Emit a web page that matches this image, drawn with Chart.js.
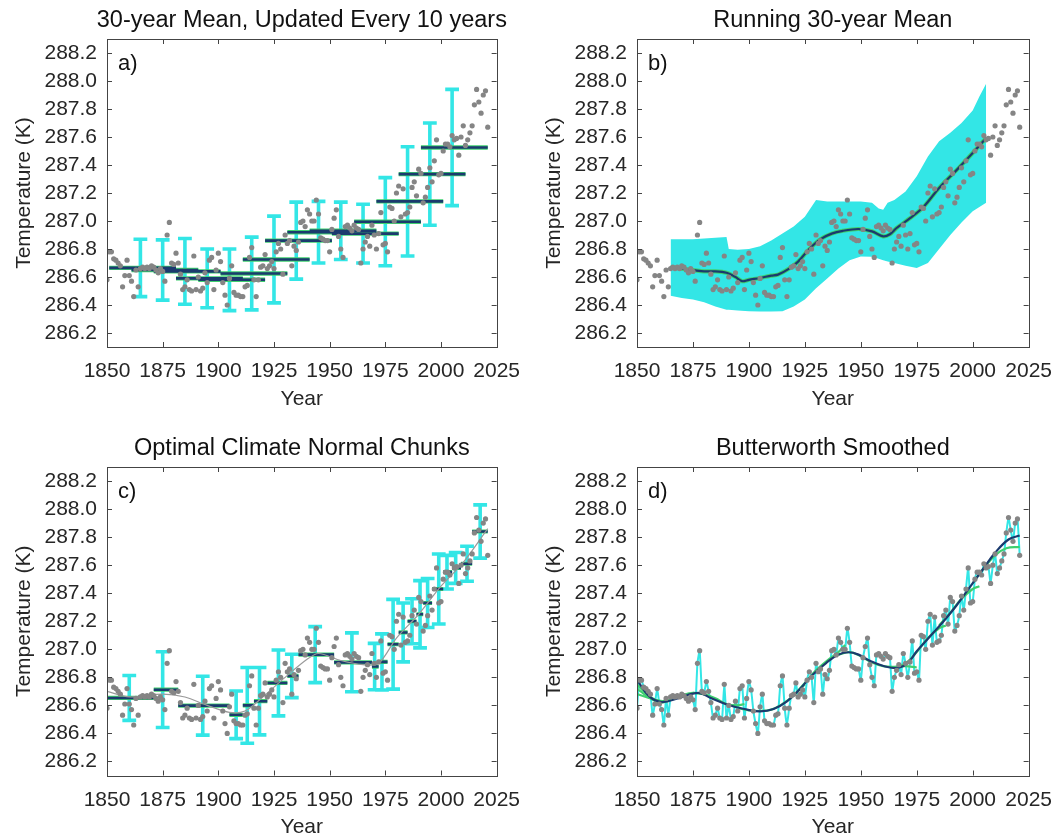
<!DOCTYPE html>
<html>
<head>
<meta charset="utf-8">
<script src="https://cdn.jsdelivr.net/npm/chart.js@4.4.1/dist/chart.umd.min.js"></script>
<style>
  html, body { margin: 0; padding: 0; background: #fff; }
  #wrap { position: relative; width: 1064px; height: 840px; }
  #wrap canvas { position: absolute; }
</style>
</head>
<body>
<div id="wrap">
  <canvas id="pa" width="532" height="420" style="left:0;top:0"></canvas>
  <canvas id="pb" width="532" height="420" style="left:532px;top:0"></canvas>
  <canvas id="pc" width="532" height="420" style="left:0;top:420px"></canvas>
  <canvas id="pd" width="532" height="420" style="left:532px;top:420px"></canvas>
</div>
<script>
// ---------- annual global mean temperature (K), 1850-2021 ----------
const years = Array.from({ length: 172 }, (_, i) => 1850 + i);
const temps = [
  286.58, 286.78, 286.78, 286.73, 286.72, 286.70, 286.68, 286.53, 286.61, 286.72,
  286.61, 286.57, 286.46, 286.65, 286.53, 286.66, 286.67, 286.66, 286.67, 286.66,
  286.68, 286.67, 286.65, 286.63, 286.66, 286.64, 286.57, 286.90, 286.99, 286.70,
  286.69, 286.77, 286.70, 286.62, 286.51, 286.53, 286.58, 286.51, 286.50, 286.75,
  286.51, 286.60, 286.50, 286.52, 286.63, 286.56, 286.72, 286.74, 286.51, 286.65,
  286.77, 286.71, 286.56, 286.47, 286.40, 286.59, 286.68, 286.49, 286.47, 286.47,
  286.46, 286.46, 286.53, 286.54, 286.74, 286.81, 286.58, 286.46, 286.58, 286.67,
  286.68, 286.76, 286.66, 286.68, 286.71, 286.66, 286.78, 286.84, 286.80, 286.62,
  286.90, 286.84, 286.86, 286.68, 286.82, 286.79, 286.85, 286.99, 287.00, 286.96,
  287.08, 287.05, 287.00, 287.00, 287.15, 287.05, 286.88, 286.87, 286.86, 286.86,
  286.78, 286.94, 287.02, 287.08, 286.89, 286.80, 286.74, 286.96, 286.97, 286.95,
  286.93, 286.97, 286.95, 286.94, 286.70, 286.80, 286.85, 286.89, 286.82, 286.97,
  286.90, 286.80, 286.91, 287.06, 286.83, 286.84, 286.78, 287.10, 287.09, 287.00,
  287.20, 287.25, 287.03, 287.23, 287.05, 287.06, 287.10, 287.24, 287.28, 287.18,
  287.37, 287.34, 287.13, 287.17, 287.24, 287.38, 287.28, 287.43, 287.58, 287.33,
  287.34, 287.50, 287.55, 287.55, 287.53, 287.61, 287.58, 287.59, 287.47, 287.60,
  287.68, 287.54, 287.58, 287.63, 287.68, 287.83, 287.94, 287.85, 287.77, 287.90,
  287.93, 287.67
];

// ---------- axis ticks ----------
const xTicks = [1850, 1875, 1900, 1925, 1950, 1975, 2000, 2025];
const yTicks = [286.2, 286.4, 286.6, 286.8, 287.0, 287.2, 287.4, 287.6, 287.8, 288.0, 288.2];

// ---------- a) 30-year means, refreshed every decade ----------
const segStartA = [1851, 1861, 1871, 1881, 1891, 1901, 1911, 1921, 1931, 1941, 1951, 1961, 1971, 1981, 1991];
const segEndA   = [1881, 1891, 1901, 1911, 1921, 1931, 1941, 1951, 1961, 1971, 1981, 1991, 2001, 2011, 2021];
const segMeanA  = [286.665, 286.65, 286.64, 286.59, 286.58, 286.625, 286.725, 286.86, 286.92, 286.93, 286.91, 286.995, 287.14, 287.335, 287.525];
const barYearA  = [1865, 1875, 1885, 1895, 1905, 1915, 1925, 1935, 1945, 1955, 1965, 1975, 1985, 1995, 2005];
const barHalfA  = [0.205, 0.215, 0.235, 0.21, 0.22, 0.26, 0.31, 0.275, 0.22, 0.205, 0.21, 0.315, 0.39, 0.365, 0.415];

// ---------- b) running 30-year mean with spread ----------
const bandYearsB = [1865, 1870, 1875, 1880, 1885, 1890, 1891, 1895, 1900, 1905, 1910, 1915, 1920, 1925, 1930, 1935, 1940,
                    1945, 1950, 1955, 1958, 1960, 1962, 1965, 1970, 1975, 1980, 1985, 1990, 1995, 2000, 2003, 2006];
const bandUpperB = [286.87, 286.87, 286.87, 286.875, 286.88, 286.886, 286.80, 286.795, 286.80, 286.82, 286.86, 286.91, 286.96,
                    287.03, 287.15, 287.14, 287.14, 287.14, 287.14, 287.13, 287.09, 287.08, 287.13, 287.15, 287.21, 287.32,
                    287.46, 287.57, 287.63, 287.70, 287.79, 287.89, 287.98];
const bandLowerB = [286.466, 286.45, 286.44, 286.42, 286.39, 286.366, 286.366, 286.36, 286.355, 286.354, 286.354, 286.356,
                    286.39, 286.44, 286.52, 286.59, 286.66, 286.72, 286.747, 286.745, 286.73, 286.72, 286.71, 286.70, 286.68,
                    286.664, 286.70, 286.80, 286.90, 286.99, 287.07, 287.10, 287.13];
const runYearsB = [1865, 1870, 1876, 1880, 1885, 1890, 1894, 1897, 1900, 1905, 1910, 1913, 1918, 1922, 1927, 1932, 1937,
                   1942, 1949, 1955, 1960, 1963, 1966, 1972, 1978, 1985, 1993, 2000, 2006];
const runMeanB  = [286.671, 286.66, 286.647, 286.64, 286.64, 286.63, 286.60, 286.57, 286.58, 286.593, 286.61, 286.617, 286.66,
                   286.71, 286.80, 286.87, 286.91, 286.93, 286.943, 286.926, 286.89, 286.905, 286.95, 287.02, 287.10, 287.236,
                   287.367, 287.486, 287.593];

// ---------- c) optimal climate-normal chunks ----------
const chunkStartC = [1850, 1871, 1882, 1905, 1911, 1916, 1922, 1931, 1936, 1952, 1969, 1972, 1976, 1981, 1985, 1989, 1992, 1996, 2001, 2005, 2009, 2014];
const chunkEndC   = [1871, 1882, 1905, 1911, 1916, 1922, 1931, 1936, 1952, 1969, 1972, 1976, 1981, 1985, 1989, 1992, 1996, 2001, 2005, 2009, 2014, 2021];
const chunkMeanC  = [286.653, 286.712, 286.598, 286.533, 286.60, 286.63, 286.76, 286.81, 286.962, 286.907, 286.877, 286.91,
                     287.036, 287.12, 287.20, 287.25, 287.33, 287.43, 287.55, 287.58, 287.61, 287.84];
const chunkBarC   = [1860, 1875, 1893, 1908, 1913, 1918.5, 1927, 1933, 1943.5, 1960, 1970.2, 1973.5, 1978.5, 1983, 1987,
                     1990.6, 1994, 1999, 2002.7, 2006.6, 2011.7, 2017.6];
const chunkHalfC  = [0.16, 0.27, 0.21, 0.17, 0.27, 0.24, 0.235, 0.155, 0.2, 0.21, 0.165, 0.2, 0.32, 0.21, 0.16, 0.24, 0.175,
                     0.25, 0.12, 0.11, 0.125, 0.19];
const trendYearsC = [1850, 1860, 1875, 1885, 1895, 1905, 1912, 1920, 1930, 1940, 1945, 1955, 1965, 1972, 1980, 1990, 2000, 2010, 2021];
const trendValsC  = [286.70, 286.66, 286.68, 286.66, 286.60, 286.55, 286.56, 286.66, 286.80, 286.93, 286.97, 286.92, 286.89,
                     286.90, 287.08, 287.25, 287.45, 287.62, 287.86];

// ---------- d) Butterworth low-pass ----------
const smoothYearsD = [1850, 1855.5, 1861, 1868.5, 1877.5, 1883, 1890.5, 1898, 1905, 1911, 1917, 1922.5, 1928.5, 1934.5,
                      1940, 1944.5, 1949, 1954.5, 1960.5, 1966.5, 1971, 1975, 1981, 1987, 1992.5, 1998.5, 2004.5, 2010, 2016, 2021];
const smoothValsD  = [286.782, 286.664, 286.624, 286.652, 286.689, 286.652, 286.605, 286.574, 286.557, 286.574, 286.629, 286.712,
                      286.819, 286.902, 286.962, 286.979, 286.962, 286.914, 286.879, 286.867, 286.902, 286.986, 287.093, 287.20,
                      287.307, 287.438, 287.569, 287.688, 287.783, 287.811];
const greenPiecesD = [
  [[1850, 286.75], [1853, 286.70], [1856, 286.66], [1860, 286.63], [1865, 286.64], [1870, 286.67], [1875, 286.69], [1880, 286.68]],
  [[1850, 286.68], [1854, 286.66], [1858, 286.64], [1862, 286.63]],
  [[1850, 286.72], [1855, 286.66], [1860, 286.62], [1864, 286.63]],
  [[1875, 286.69], [1880, 286.68], [1885, 286.65], [1890, 286.61], [1895, 286.60], [1898, 286.61]],
  [[1895, 286.58], [1900, 286.565], [1905, 286.56], [1910, 286.57], [1915, 286.61], [1920, 286.67], [1925, 286.75]],
  [[1920, 286.67], [1925, 286.76], [1930, 286.85], [1935, 286.92], [1940, 286.98], [1943, 287.03]],
  [[1940, 286.96], [1945, 286.98], [1950, 286.95], [1955, 286.905], [1960, 286.88], [1965, 286.875], [1970, 286.88], [1975, 286.87]],
  [[1965, 286.87], [1970, 286.90], [1975, 286.98], [1980, 287.08], [1985, 287.15], [1988, 287.17]],
  [[1985, 287.17], [1990, 287.26], [1995, 287.36], [2000, 287.43], [2003, 287.45]],
  [[2000, 287.47], [2005, 287.58], [2010, 287.67], [2015, 287.72], [2021, 287.73]]
];

// ---------- styling ----------
const CYAN = '#33e6e6', NAVY = '#1b3a6e', GREEN = '#3fcf6f', DOT = '#858585', INK = '#262626';
const FONT = '"Liberation Sans", Arial, Helvetica, sans-serif';
const CAP = 3.1; // half-width of error-bar caps, in years

Chart.defaults.font.family = FONT;
Chart.defaults.font.size = 21;
Chart.defaults.color = INK;

const dotPoints = years.map((yr, i) => ({ x: yr, y: temps[i] }));

function segmentPoints(starts, ends, means) {
  const pts = [];
  starts.forEach((s, i) => {
    pts.push({ x: s, y: means[i] }, { x: ends[i], y: means[i] }, { x: ends[i], y: null });
  });
  return pts;
}
function errorBarPoints(xs, mids, halves) {
  const pts = [];
  xs.forEach((x, i) => {
    const lo = mids[i] - halves[i], hi = mids[i] + halves[i];
    pts.push({ x, y: lo }, { x, y: hi }, { x, y: null },
             { x: x - CAP, y: hi }, { x: x + CAP, y: hi }, { x: x + CAP, y: null },
             { x: x - CAP, y: lo }, { x: x + CAP, y: lo }, { x: x + CAP, y: null });
  });
  return pts;
}
function pairsToPoints(xs, ys) { return xs.map((x, i) => ({ x, y: ys[i] })); }

function dotsDataset(order) {
  return { type: 'scatter', data: dotPoints, pointRadius: 2.6, pointBackgroundColor: DOT,
           pointBorderWidth: 0, showLine: false, order };
}
function lineDataset(data, color, width, order, extra) {
  return Object.assign({ type: 'line', data, borderColor: color, borderWidth: width, pointRadius: 0,
                         tension: 0, spanGaps: false, fill: false, borderCapStyle: 'butt', order }, extra || {});
}

// frame, inward tick marks and all captions
const framePlugin = {
  id: 'frame',
  afterDraw(chart, args, o) {
    const { ctx, chartArea: a, scales } = chart;
    const xs = scales.x, ys = scales.y;
    ctx.save();
    ctx.strokeStyle = '#444';
    ctx.lineWidth = 1;
    ctx.strokeRect(Math.round(a.left) + 0.5, Math.round(a.top) + 0.5, Math.round(a.right - a.left), Math.round(a.bottom - a.top));
    ctx.beginPath();
    xs.ticks.forEach(t => {
      const px = Math.round(xs.getPixelForValue(t.value)) + 0.5;
      ctx.moveTo(px, a.bottom); ctx.lineTo(px, a.bottom - 5);
      ctx.moveTo(px, a.top); ctx.lineTo(px, a.top + 5);
    });
    ys.ticks.forEach(t => {
      const py = Math.round(ys.getPixelForValue(t.value)) + 0.5;
      ctx.moveTo(a.left, py); ctx.lineTo(a.left + 5, py);
      ctx.moveTo(a.right, py); ctx.lineTo(a.right - 5, py);
    });
    ctx.stroke();

    const cx = (a.left + a.right) / 2, cy = (a.top + a.bottom) / 2;
    ctx.fillStyle = '#111';
    ctx.textBaseline = 'middle';
    ctx.textAlign = 'center';
    ctx.font = '23.5px ' + FONT;
    ctx.fillText(o.title, cx, a.top - 18);
    ctx.fillStyle = INK;
    ctx.font = '21px ' + FONT;
    ctx.fillText('Year', cx, a.bottom + 52);
    ctx.save();
    ctx.translate(a.left - 83, cy);
    ctx.rotate(-Math.PI / 2);
    ctx.fillText('Temperature (K)', 0, 0);
    ctx.restore();
    ctx.fillStyle = '#111';
    ctx.textAlign = 'left';
    ctx.font = '22px ' + FONT;
    ctx.fillText(o.label, a.left + 11, a.top + 25);
    ctx.restore();
  }
};

function makePanel(id, title, label, datasets, box) {
  const W = 532, H = 420, XH = 60;
  new Chart(document.getElementById(id), {
    data: { datasets },
    options: {
      responsive: false,
      animation: false,
      devicePixelRatio: 1,
      layout: { padding: { left: 0, top: box.top, right: W - box.right, bottom: H - box.bottom - XH } },
      plugins: { legend: { display: false }, tooltip: { enabled: false }, title: { display: false },
                 frame: { title, label } },
      scales: {
        x: {
          type: 'linear', min: 1850, max: 2025,
          grid: { display: false, drawTicks: false }, border: { display: false },
          afterBuildTicks: s => { s.ticks = xTicks.map(v => ({ value: v })); },
          afterFit: s => { s.height = XH; },
          ticks: { padding: 12, maxRotation: 0, autoSkip: false, callback: v => String(v) }
        },
        y: {
          type: 'linear', min: 286.1, max: 288.3,
          grid: { display: false, drawTicks: false }, border: { display: false },
          afterBuildTicks: s => { s.ticks = yTicks.map(v => ({ value: v })); },
          afterFit: s => { s.width = box.left; },
          ticks: { padding: 10, autoSkip: false, callback: v => v.toFixed(1) }
        }
      }
    },
    plugins: [framePlugin]
  });
}

// a)
makePanel('pa', '30-year Mean, Updated Every 10 years', 'a)', [
  dotsDataset(1),
  lineDataset(segmentPoints(segStartA, segEndA, segMeanA), NAVY, 2.6, 2),
  lineDataset(segmentPoints(segStartA, segEndA, segMeanA), GREEN, 4.4, 3),
  lineDataset(errorBarPoints(barYearA, segMeanA, barHalfA), CYAN, 3.6, 4)
], { left: 107, right: 507, top: 39, bottom: 347 });

// b)
makePanel('pb', 'Running 30-year Mean', 'b)', [
  lineDataset(pairsToPoints(bandYearsB, bandUpperB), 'rgba(0,0,0,0)', 0, 10,
              { fill: '+1', backgroundColor: CYAN }),
  lineDataset(pairsToPoints(bandYearsB, bandLowerB), 'rgba(0,0,0,0)', 0, 11),
  dotsDataset(1),
  lineDataset(pairsToPoints(runYearsB, runMeanB), NAVY, 2.2, 2, { tension: 0.3 }),
  lineDataset(pairsToPoints(runYearsB, runMeanB), GREEN, 4.2, 3, { tension: 0.3 })
], { left: 105, right: 505, top: 39, bottom: 347 });

// c)
makePanel('pc', 'Optimal Climate Normal Chunks', 'c)', [
  dotsDataset(1),
  lineDataset(pairsToPoints(trendYearsC, trendValsC), '#9a9a9a', 1.2, 2, { tension: 0.3 }),
  lineDataset(segmentPoints(chunkStartC, chunkEndC, chunkMeanC), NAVY, 2.6, 3),
  lineDataset(segmentPoints(chunkStartC, chunkEndC, chunkMeanC), GREEN, 4.2, 4),
  lineDataset(errorBarPoints(chunkBarC, chunkMeanC, chunkHalfC), CYAN, 3.6, 5)
], { left: 107, right: 507, top: 47, bottom: 355.5 });

// d)
const greenSetsD = greenPiecesD.map((piece, k) =>
  lineDataset(piece.map(p => ({ x: p[0], y: p[1] })), GREEN, 2.2, 4 + k, { tension: 0.4 }));
makePanel('pd', 'Butterworth Smoothed', 'd)', [
  dotsDataset(1),
  lineDataset(pairsToPoints(smoothYearsD, smoothValsD), NAVY, 2.2, 2, { tension: 0.4 }),
  ...greenSetsD,
  lineDataset(dotPoints, CYAN, 2, 30, { tension: 0.15 })
], { left: 105, right: 505, top: 47, bottom: 355.5 });
</script>
</body>
</html>
